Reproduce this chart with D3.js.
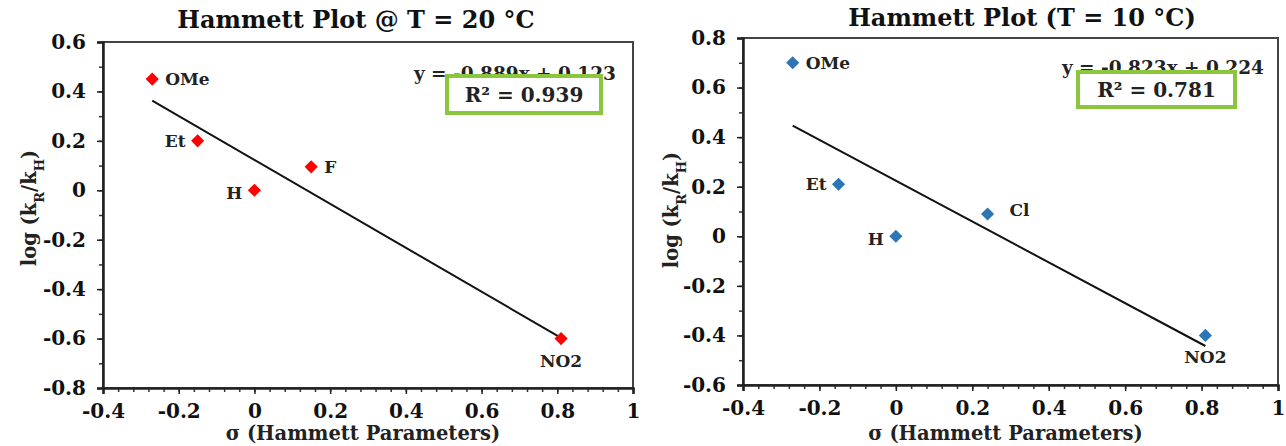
<!DOCTYPE html>
<html>
<head>
<meta charset="utf-8">
<script src="https://d3js.org/d3.v7.min.js"></script>
<style>
  body { margin: 0; background: #fff; }
  svg { font-family: "DejaVu Serif", "Liberation Serif", serif; font-weight: bold; }
  .pt-label { font-size: 17px; fill: #222; }
  .title { font-size: 24px; fill: #111; }
  .axis-title { font-size: 19.5px; fill: #222; }
</style>
</head>
<body>
<div id="chart"></div>
<script>
// substituent labels and measured values
var leftNames = ["OMe", "Et", "H", "F", "NO2"];
var leftSigma = [-0.27, -0.15, 0, 0.15, 0.81];
var leftLogK = [0.45, 0.2, 0, 0.095, -0.6];

var rightNames = ["OMe", "Et", "H", "Cl", "NO2"];
var rightSigma = [-0.27, -0.15, 0, 0.24, 0.81];
var rightLogK = [0.7, 0.21, 0, 0.09, -0.4];

var xTicks = [-0.4, -0.2, 0, 0.2, 0.4, 0.6, 0.8, 1];
var leftYTicks = [-0.8, -0.6, -0.4, -0.2, 0, 0.2, 0.4, 0.6];
var rightYTicks = [-0.6, -0.4, -0.2, 0, 0.2, 0.4, 0.6, 0.8];

// regression lines shown on the charts
var leftFit = {slope: -0.889, intercept: 0.123, r2: "0.939", eq: "y = -0.889x + 0.123"};
var rightFit = {slope: -0.823, intercept: 0.224, r2: "0.781", eq: "y = -0.823x + 0.224"};

var W = 1286, H = 446;
var svg = d3.select("#chart").append("svg")
  .attr("width", W).attr("height", H);

// label placement (dx, dy, anchor) per substituent
var place = {
  OMe: [13, 6, "start"],
  Et: [-12, 6, "end"],
  H: [-12, 9, "end"],
  F: [13, 6, "start"],
  Cl: [22, 2, "start"],
  NO2: [0, 28, "middle"]
};

function fmt(d) {
  if (Math.abs(d) < 1e-9) return "0";
  return String(+d.toFixed(1));
}

function styleTicks(a) {
  a.selectAll(".tick text")
    .style("font-family", "'DejaVu Serif', serif")
    .style("font-weight", "bold")
    .style("font-size", "20px")
    .style("fill", "#111");
}

function drawChart(opt) {
  var g = svg.append("g");
  var x = d3.scaleLinear().domain([-0.4, 1]).range([opt.left, opt.right]);
  var y = d3.scaleLinear().domain(opt.yDomain).range([opt.bottom, opt.top]);

  // frame
  g.append("rect")
    .attr("x", opt.left).attr("y", opt.top)
    .attr("width", opt.right - opt.left).attr("height", opt.bottom - opt.top)
    .attr("fill", "none").attr("stroke", "#444").attr("stroke-width", 2);

  // minor ticks
  var xMinor = d3.range(-0.4, 1.0001, 0.04);
  g.append("g").attr("transform", "translate(0," + opt.bottom + ")")
    .call(d3.axisBottom(x).tickValues(xMinor).tickSize(4).tickFormat(""))
    .call(s => s.select(".domain").remove())
    .selectAll("line").attr("stroke", "#333").attr("stroke-width", 1.5);
  var yMinor = d3.range(opt.yDomain[0], opt.yDomain[1] + 0.0001, 0.1);
  g.append("g").attr("transform", "translate(" + opt.left + ",0)")
    .call(d3.axisLeft(y).tickValues(yMinor).tickSize(4).tickFormat(""))
    .call(s => s.select(".domain").remove())
    .selectAll("line").attr("stroke", "#333").attr("stroke-width", 1.5);

  // major axes
  var xa = g.append("g").attr("transform", "translate(0," + opt.bottom + ")")
    .call(d3.axisBottom(x).tickValues(xTicks).tickFormat(fmt).tickSize(6).tickPadding(10));
  xa.select(".domain").attr("stroke", "#222").attr("stroke-width", 2.5);
  xa.selectAll("line").attr("stroke", "#222").attr("stroke-width", 1.5);
  styleTicks(xa);
  var ya = g.append("g").attr("transform", "translate(" + opt.left + ",0)")
    .call(d3.axisLeft(y).tickValues(opt.yTicks).tickFormat(fmt).tickSize(6).tickPadding(11));
  ya.select(".domain").attr("stroke", "#222").attr("stroke-width", 2.5);
  ya.selectAll("line").attr("stroke", "#222").attr("stroke-width", 1.5);
  styleTicks(ya);

  // trend line
  var xs = [d3.min(opt.sigma), d3.max(opt.sigma)];
  g.append("path")
    .datum(xs)
    .attr("d", d3.line().x(d => x(d)).y(d => y(opt.fit.slope * d + opt.fit.intercept)))
    .attr("stroke", "#111").attr("stroke-width", 2).attr("fill", "none");

  // points
  var pts = opt.names.map((n, i) => ({name: n, sx: opt.sigma[i], ly: opt.logk[i]}));
  g.selectAll(".pt").data(pts).enter().append("path")
    .attr("class", "pt")
    .attr("d", d3.symbol().type(d3.symbolDiamond2).size(110))
    .attr("transform", d => "translate(" + x(d.sx) + "," + y(d.ly) + ")")
    .attr("fill", opt.color);
  g.selectAll(".pt-label").data(pts).enter().append("text")
    .attr("class", "pt-label")
    .attr("x", d => x(d.sx) + place[d.name][0])
    .attr("y", d => y(d.ly) + place[d.name][1])
    .attr("text-anchor", d => place[d.name][2])
    .text(d => d.name);

  // equation + R2 box
  g.append("text").attr("class", "pt-label")
    .attr("x", opt.eqX).attr("y", opt.eqY)
    .attr("text-anchor", "end").style("font-size", "18.5px")
    .text(opt.fit.eq);
  g.append("rect")
    .attr("x", opt.box[0]).attr("y", opt.box[1])
    .attr("width", opt.box[2]).attr("height", opt.box[3])
    .attr("fill", "#fff").attr("stroke", "#8cc63f").attr("stroke-width", 4);
  g.append("text").attr("class", "pt-label")
    .attr("x", opt.box[0] + opt.box[2] / 2).attr("y", opt.box[1] + opt.box[3] / 2 + 7)
    .attr("text-anchor", "middle").style("font-size", "20px")
    .text("R² = " + opt.fit.r2);

  // titles
  g.append("text").attr("class", "title")
    .attr("x", opt.titleX).attr("y", opt.titleY)
    .attr("text-anchor", "middle").text(opt.title);
  g.append("text").attr("class", "axis-title")
    .attr("x", (opt.left + opt.right) / 2 - 5).attr("y", 440)
    .attr("text-anchor", "middle").text("σ (Hammett Parameters)");
  var yl = g.append("text").attr("class", "axis-title")
    .attr("transform", "translate(" + opt.yLabelX + "," + opt.yLabelY + ") rotate(-90)")
    .attr("text-anchor", "middle");
  yl.append("tspan").text("log (k");
  yl.append("tspan").attr("baseline-shift", "sub").style("font-size", "13px").text("R");
  yl.append("tspan").text("/k");
  yl.append("tspan").attr("baseline-shift", "sub").style("font-size", "13px").text("H");
  yl.append("tspan").text(")");
}

drawChart({
  left: 103, right: 633, top: 42, bottom: 388,
  yDomain: [-0.8, 0.6], yTicks: leftYTicks,
  names: leftNames, sigma: leftSigma, logk: leftLogK,
  fit: leftFit, color: "#ff0000",
  title: "Hammett Plot @ T = 20 °C", titleX: 356, titleY: 28,
  eqX: 616, eqY: 80, box: [447, 76, 154, 37], yLabelX: 36, yLabelY: 208
});

drawChart({
  left: 743, right: 1278, top: 38, bottom: 385,
  yDomain: [-0.6, 0.8], yTicks: rightYTicks,
  names: rightNames, sigma: rightSigma, logk: rightLogK,
  fit: rightFit, color: "#2e75b6",
  title: "Hammett Plot (T = 10 °C)", titleX: 1022, titleY: 26,
  eqX: 1264, eqY: 74, box: [1078, 72, 157, 35], yLabelX: 678, yLabelY: 210
});
</script>
</body>
</html>
